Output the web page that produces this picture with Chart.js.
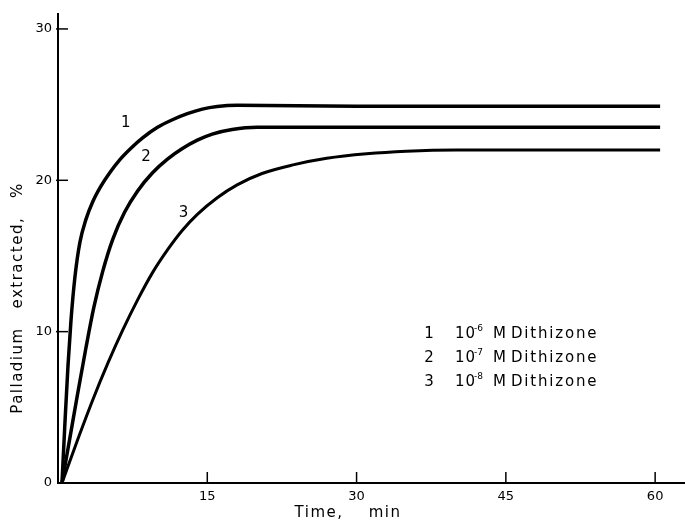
<!DOCTYPE html>
<html>
<head>
<meta charset="utf-8">
<script src="https://cdn.jsdelivr.net/npm/chart.js@4/dist/chart.umd.min.js"></script>
<style>
  html, body { margin: 0; padding: 0; background: #fff; }
  #wrap { width: 685px; height: 521px; }
</style>
</head>
<body>
<div id="wrap"><canvas id="grafico"></canvas></div>
<script>
// datos (tiempo en min, % de paladio extraido)
const tiempo1 = [0.4, 0.7, 1.0, 1.3, 1.7, 2.2, 2.8, 3.5, 4.3, 5.2, 6.2, 7.3, 8.5, 10, 11.5, 13, 14.5, 16, 18, 30, 45, 60.5];
const curva1  = [0, 4, 7.7, 10.7, 13.6, 15.9, 17.4, 18.6, 19.6, 20.5, 21.35, 22.1, 22.8, 23.5, 24.0, 24.4, 24.7, 24.87, 24.95, 24.9, 24.9, 24.9];

const tiempo2 = [0.4, 1.2, 2, 2.8, 3.6, 4.5, 5.5, 6.7, 8, 9.5, 11, 12.5, 14, 15.5, 17.5, 20, 30, 45, 60.5];
const curva2  = [0, 3, 6, 8.9, 11.6, 14, 16.1, 17.9, 19.3, 20.5, 21.4, 22.1, 22.65, 23.05, 23.35, 23.5, 23.5, 23.5, 23.5];

const tiempo3 = [0.4, 2, 3.5, 5, 6.5, 8, 9.5, 11, 12.5, 14, 16, 18, 20.5, 23.5, 27, 31, 35, 40, 60.5];
const curva3  = [0, 2.9, 5.5, 7.9, 10.1, 12.1, 13.9, 15.4, 16.7, 17.75, 18.85, 19.7, 20.45, 21, 21.45, 21.75, 21.92, 22, 22];

const ticksX = [15, 30, 45, 60];
const ticksY = [0, 10, 20, 30];

const etiquetasCurva = ["1", "2", "3"];
const posEtiquetas = [[6.8, 23.8], [8.85, 21.5], [12.6, 17.8]];
const leyenda = [["1", "-6"], ["2", "-7"], ["3", "-8"]];

function puntos(xs, ys) {
  return xs.map((x, i) => ({ x: x, y: ys[i] }));
}

const fuente = "'DejaVu Sans', sans-serif";

const dibujos = {
  id: 'dibujos',
  afterDraw(chart) {
    const ctx = chart.ctx;
    const sx = chart.scales.x, sy = chart.scales.y;
    ctx.save();
    ctx.strokeStyle = '#000';
    ctx.fillStyle = '#000';

    // marcas hacia adentro
    ctx.lineWidth = 1.5;
    ticksX.forEach(v => {
      const px = sx.getPixelForValue(v);
      ctx.beginPath(); ctx.moveTo(px, sy.bottom); ctx.lineTo(px, sy.bottom - 11); ctx.stroke();
    });
    ticksY.forEach(v => {
      if (v === 0) return;
      const py = sy.getPixelForValue(v);
      ctx.beginPath(); ctx.moveTo(sx.left - 2, py); ctx.lineTo(sx.left + 10, py); ctx.stroke();
    });

    // numeros de curva
    ctx.font = "15px " + fuente;
    ctx.textAlign = 'center';
    ctx.textBaseline = 'middle';
    etiquetasCurva.forEach((t, i) => {
      ctx.fillText(t, sx.getPixelForValue(posEtiquetas[i][0]), sy.getPixelForValue(posEtiquetas[i][1]));
    });

    // leyenda
    leyenda.forEach((fila, i) => {
      const y = 334 + i * 24;
      ctx.letterSpacing = '0px';
      ctx.textAlign = 'center';
      ctx.font = "15px " + fuente;
      ctx.fillText(fila[0], 429, y);
      ctx.textAlign = 'left';
      ctx.letterSpacing = '1px';
      ctx.fillText("10", 455, y);
      ctx.font = "9px " + fuente;
      ctx.letterSpacing = '0px';
      ctx.fillText(fila[1], 474, y - 5);
      ctx.font = "15px " + fuente;
      ctx.fillText("M", 493, y);
      ctx.letterSpacing = '1.8px';
      ctx.fillText("Dithizone", 511, y);
    });

    // titulos de ejes
    ctx.font = "15px " + fuente;
    ctx.letterSpacing = '1.5px';
    ctx.textAlign = 'center';
    ctx.fillText("Time,    min", 348, 513);
    ctx.translate(18, 298);
    ctx.rotate(-Math.PI / 2);
    ctx.fillText("Palladium   extracted,   %", 0, 0);
    ctx.restore();
  }
};

const estiloLinea = { borderColor: '#000', backgroundColor: '#000', pointRadius: 0, fill: false,
  cubicInterpolationMode: 'monotone' };

new Chart(document.getElementById('grafico'), {
  type: 'line',
  data: {
    datasets: [
      Object.assign({ label: '1', data: puntos(tiempo1, curva1), borderWidth: 3.5 }, estiloLinea),
      Object.assign({ label: '2', data: puntos(tiempo2, curva2), borderWidth: 3.5 }, estiloLinea),
      Object.assign({ label: '3', data: puntos(tiempo3, curva3), borderWidth: 3 }, estiloLinea)
    ]
  },
  options: {
    responsive: true,
    maintainAspectRatio: false,
    animation: false,
    layout: { padding: { top: 12, left: 0, right: 0, bottom: 0 } },
    plugins: { legend: { display: false }, tooltip: { enabled: false } },
    scales: {
      x: {
        type: 'linear', min: 0, max: 63,
        afterBuildTicks: s => { s.ticks = ticksX.map(v => ({ value: v })); },
        afterFit: s => { s.height = 38; },
        grid: { display: false, drawTicks: false },
        border: { display: true, color: '#000', width: 2 },
        ticks: { color: '#000', font: { family: fuente, size: 13 }, padding: 6, maxRotation: 0 }
      },
      y: {
        type: 'linear', min: 0, max: 31,
        afterBuildTicks: s => { s.ticks = ticksY.map(v => ({ value: v })); },
        afterFit: s => { s.width = 58; },
        grid: { display: false, drawTicks: false },
        border: { display: true, color: '#000', width: 2 },
        ticks: { color: '#000', font: { family: fuente, size: 13 }, padding: 6 }
      }
    }
  },
  plugins: [dibujos]
});
</script>
</body>
</html>
